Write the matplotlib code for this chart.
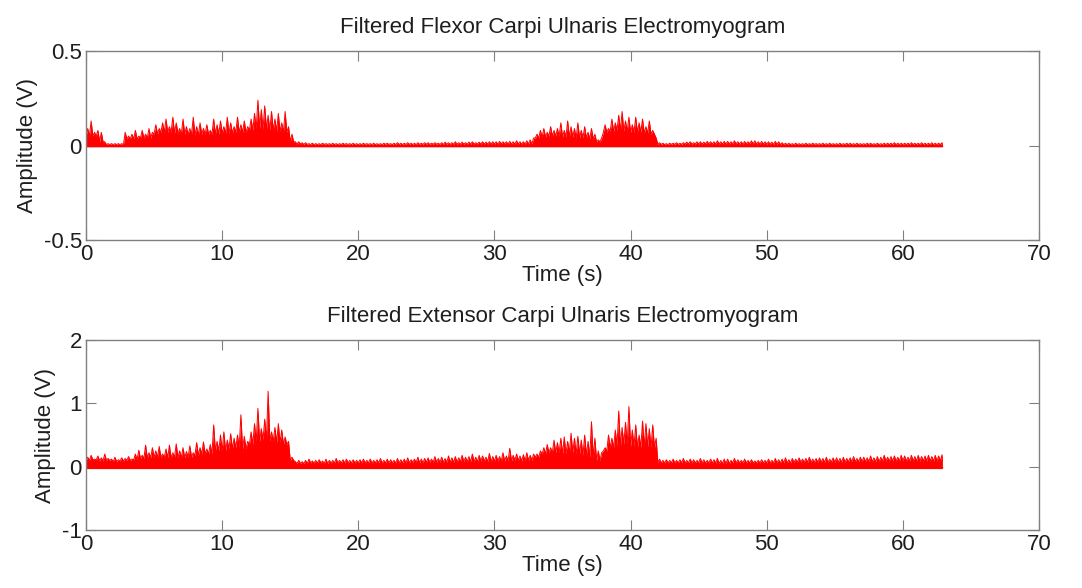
import numpy as np
import matplotlib
matplotlib.use("Agg")
import matplotlib.pyplot as plt

plt.rcParams['font.family'] = ['Liberation Sans', 'DejaVu Sans']
plt.rcParams['axes.unicode_minus'] = False

# ---------------- data ----------------
body_step = 0.5    # s, resolution of the dense envelope
peak_step = 0.25   # s, resolution of the spike heights

flexor_body = [
    0.05, 0.05, 0.02, 0.005, 0.005, 0.005, 0.035, 0.035, 0.04, 0.04,
    0.06, 0.07, 0.07, 0.065, 0.06, 0.06, 0.055, 0.06, 0.06, 0.06,
    0.065, 0.065, 0.07, 0.07, 0.08, 0.09, 0.085, 0.08, 0.075, 0.07,
    0.02, 0.008, 0.006, 0.005, 0.005, 0.006, 0.005, 0.005, 0.006, 0.005,
    0.005, 0.006, 0.005, 0.005, 0.006, 0.005, 0.005, 0.006, 0.005, 0.006,
    0.006, 0.007, 0.006, 0.006, 0.007, 0.007, 0.007, 0.008, 0.008, 0.008,
    0.008, 0.009, 0.008, 0.008, 0.008, 0.008,
    0.04, 0.045, 0.05, 0.05, 0.045, 0.045, 0.04, 0.04, 0.035,
    0.02,
    0.07, 0.075, 0.08, 0.075, 0.07, 0.07, 0.065, 0.06,
    0.006, 0.005, 0.006, 0.006, 0.008, 0.008, 0.008, 0.009, 0.008, 0.008,
    0.008, 0.009, 0.008, 0.009, 0.008, 0.008, 0.007, 0.006, 0.005, 0.005,
    0.005, 0.005, 0.005, 0.006, 0.005, 0.005, 0.005, 0.005, 0.005, 0.005,
    0.005, 0.005, 0.005, 0.005, 0.005, 0.005, 0.005, 0.005, 0.005, 0.005,
    0.005, 0.005,
]

flexor_peak = [
    0.09, 0.13, 0.07, 0.08,   0.07, 0.02, 0.01, 0.01,   0.01, 0.01, 0.01, 0.07,
    0.05, 0.06, 0.08, 0.05,   0.08, 0.06, 0.09, 0.07,   0.11, 0.09, 0.12, 0.14,
    0.10, 0.15, 0.12, 0.09,   0.14, 0.10, 0.09, 0.15,   0.10, 0.12, 0.09, 0.11,
    0.08, 0.14, 0.11, 0.13,   0.10, 0.15, 0.12, 0.10,   0.15, 0.11, 0.13, 0.10,
    0.14, 0.17, 0.24, 0.19,   0.21, 0.16, 0.18, 0.14,   0.17, 0.12, 0.18, 0.10,
    0.06, 0.02, 0.02, 0.015,
    # 16 - 33 s (quiet)
    0.015, 0.01, 0.012, 0.01,  0.01, 0.012, 0.01, 0.01,  0.012, 0.01, 0.01, 0.012,
    0.01, 0.01, 0.012, 0.01,  0.01, 0.012, 0.01, 0.01,  0.012, 0.01, 0.01, 0.012,
    0.012, 0.01, 0.012, 0.015,  0.012, 0.012, 0.015, 0.012,  0.012, 0.015, 0.012, 0.015,
    0.015, 0.012, 0.015, 0.012,  0.015, 0.018, 0.015, 0.015,  0.02, 0.015, 0.018, 0.015,
    0.018, 0.02, 0.015, 0.018,  0.02, 0.018, 0.02, 0.02,  0.02, 0.022, 0.02, 0.02,
    0.022, 0.02, 0.025, 0.02,  0.02, 0.025, 0.03, 0.04,
    # 33 - 42 s
    0.06, 0.08, 0.09, 0.07,   0.10, 0.08, 0.09, 0.12,   0.08, 0.13, 0.10, 0.09,
    0.12, 0.08, 0.10, 0.07,   0.09, 0.06, 0.03, 0.04,   0.11, 0.09, 0.14, 0.12,
    0.16, 0.18, 0.13, 0.15,   0.11, 0.15, 0.12, 0.14,   0.10, 0.13, 0.08, 0.04,
    # 42 - 63 s (quiet)
    0.015, 0.012, 0.01, 0.012,  0.012, 0.015, 0.012, 0.015,  0.018, 0.02, 0.015, 0.02,
    0.02, 0.018, 0.022, 0.02,  0.02, 0.025, 0.02, 0.022,  0.022, 0.02, 0.025, 0.02,
    0.02, 0.022, 0.02, 0.025,  0.025, 0.02, 0.022, 0.02,  0.02, 0.018, 0.022, 0.02,
    0.015, 0.012, 0.012, 0.01,  0.012, 0.01, 0.01, 0.012,  0.01, 0.012, 0.01, 0.01,
    0.012, 0.01, 0.012, 0.01,  0.01, 0.012, 0.01, 0.012,  0.012, 0.01, 0.012, 0.01,
    0.01, 0.012, 0.012, 0.01,  0.012, 0.01, 0.012, 0.012,  0.012, 0.015, 0.012, 0.012,
    0.012, 0.012, 0.015, 0.012,  0.012, 0.015, 0.012, 0.012,  0.015, 0.012, 0.012, 0.015,
]

extensor_body = [
    0.10, 0.11, 0.09, 0.10, 0.08, 0.09, 0.10, 0.11,
    0.13, 0.14, 0.15, 0.15, 0.14, 0.15, 0.14, 0.15,
    0.18, 0.20, 0.20,
    0.25, 0.25, 0.28, 0.30, 0.28,
    0.35, 0.40, 0.42, 0.40, 0.38, 0.35,
    0.10,
    0.05, 0.05, 0.06, 0.06, 0.05, 0.06, 0.06, 0.06, 0.06, 0.06,
    0.06, 0.06, 0.06, 0.06, 0.06, 0.06, 0.06, 0.07, 0.06, 0.07,
    0.07, 0.07, 0.07, 0.07, 0.08, 0.08, 0.08, 0.09, 0.08, 0.09,
    0.09, 0.09, 0.10, 0.09, 0.10,
    0.15, 0.20, 0.22, 0.22, 0.20, 0.22, 0.20, 0.18, 0.15,
    0.10,
    0.25, 0.30, 0.32, 0.35, 0.32, 0.30, 0.32, 0.30,
    0.06, 0.06, 0.06, 0.06, 0.06, 0.06, 0.06, 0.06, 0.06, 0.05,
    0.05, 0.06, 0.06, 0.06, 0.06, 0.06, 0.06, 0.06, 0.06, 0.06,
    0.07, 0.07, 0.07, 0.07, 0.07, 0.07, 0.07, 0.07, 0.08, 0.08,
    0.08, 0.08, 0.08, 0.09, 0.09, 0.09, 0.09, 0.09, 0.09, 0.09,
    0.09, 0.09,
]

extensor_peak = [
    0.15, 0.18, 0.12, 0.17,   0.14, 0.20, 0.13, 0.12,   0.15, 0.11, 0.14, 0.13,
    0.16, 0.12, 0.20, 0.26,   0.18, 0.34, 0.22, 0.30,   0.25, 0.32, 0.20, 0.28,
    0.34, 0.22, 0.36, 0.25,   0.30, 0.24, 0.33, 0.22,   0.38, 0.30, 0.39, 0.28,
    0.35, 0.66, 0.40, 0.50,   0.55, 0.42, 0.52, 0.45,   0.50, 0.82, 0.48, 0.40,
    0.55, 0.68, 0.92, 0.60,   0.75, 1.19, 0.55, 0.62,   0.68, 0.58, 0.47, 0.40,
    0.15, 0.08, 0.10, 0.08,
    # 16 - 33 s
    0.10, 0.12, 0.09, 0.10,   0.11, 0.09, 0.12, 0.10,   0.10, 0.13, 0.10, 0.11,
    0.12, 0.10, 0.11, 0.10,   0.11, 0.12, 0.10, 0.12,   0.10, 0.11, 0.13, 0.10,
    0.12, 0.11, 0.10, 0.13,   0.11, 0.12, 0.14, 0.11,   0.12, 0.15, 0.12, 0.13,
    0.14, 0.12, 0.16, 0.13,   0.15, 0.13, 0.17, 0.14,   0.16, 0.14, 0.18, 0.15,
    0.16, 0.20, 0.15, 0.18,   0.17, 0.15, 0.21, 0.16,   0.18, 0.16, 0.22, 0.17,
    0.29, 0.18, 0.20, 0.17,   0.19, 0.22, 0.18, 0.20,
    # 33 - 42 s
    0.20, 0.25, 0.30, 0.35,   0.30, 0.42, 0.38, 0.45,   0.47, 0.40, 0.53, 0.45,
    0.48, 0.42, 0.50, 0.40,   0.71, 0.45, 0.25, 0.22,   0.30, 0.50, 0.45, 0.58,
    0.88, 0.62, 0.70, 0.95,   0.58, 0.66, 0.50, 0.72,   0.68, 0.60, 0.66, 0.45,
    # 42 - 63 s
    0.12, 0.10, 0.11, 0.10,   0.12, 0.10, 0.11, 0.13,   0.10, 0.12, 0.11, 0.10,
    0.13, 0.11, 0.10, 0.12,   0.11, 0.13, 0.10, 0.12,   0.12, 0.10, 0.13, 0.11,
    0.10, 0.12, 0.10, 0.11,   0.09, 0.10, 0.11, 0.10,   0.12, 0.10, 0.13, 0.11,
    0.12, 0.14, 0.11, 0.13,   0.12, 0.14, 0.12, 0.13,   0.15, 0.12, 0.13, 0.14,
    0.13, 0.15, 0.12, 0.14,   0.14, 0.13, 0.15, 0.13,   0.14, 0.16, 0.13, 0.15,
    0.15, 0.14, 0.17, 0.14,   0.16, 0.15, 0.18, 0.15,   0.16, 0.17, 0.15, 0.18,
    0.17, 0.15, 0.18, 0.16,   0.18, 0.16, 0.17, 0.18,   0.16, 0.18, 0.17, 0.19,
]

titles = ["Filtered Flexor Carpi Ulnaris Electromyogram",
          "Filtered Extensor Carpi Ulnaris Electromyogram"]
x_ticks = [0, 10, 20, 30, 40, 50, 60, 70]
y_ticks_top = [-0.5, 0, 0.5]
y_ticks_bottom = [-1, 0, 1, 2]
t_end = 62.9

# ---------------- figure ----------------
fig = plt.figure(figsize=(10.82, 5.88), dpi=100)
ax1 = fig.add_axes([0.0795, 0.5918, 0.8808, 0.3214])
ax2 = fig.add_axes([0.0795, 0.0986, 0.8808, 0.3231])

red = "#ff0000"
gray = "#808080"
txt = "#1e1e1e"


def draw(ax, body, peak, neg, ylim, yticks, title):
    peak = np.asarray(peak)
    body = np.asarray(body)
    n = len(peak)
    # valleys at sample edges sit on the dense envelope, apexes are the spikes
    t_edge = np.arange(n + 1) * peak_step
    t_apex = np.arange(n) * peak_step + peak_step / 2
    idx = np.minimum((t_edge / body_step).astype(int), len(body) - 1)
    v_edge = body[idx]
    xs = np.empty(2 * n + 1)
    ys = np.empty(2 * n + 1)
    xs[0::2] = t_edge
    ys[0::2] = v_edge
    xs[1::2] = t_apex
    ys[1::2] = peak
    xs = np.minimum(xs, t_end)
    ax.fill_between(xs, -neg, ys, color=red, linewidth=0)
    ax.plot(xs, ys, color=red, linewidth=0.7)
    ax.plot([0, t_end], [0, 0], color=red, linewidth=1.0)
    ax.set_xlim(0, 70)
    ax.set_ylim(*ylim)
    ax.set_xticks(x_ticks)
    ax.set_yticks(yticks)
    ax.set_yticklabels([f"{v:g}" for v in yticks])
    ax.set_title(title, fontsize=16, color=txt, pad=13)
    ax.set_xlabel("Time (s)", fontsize=16, color=txt, labelpad=0)
    ax.set_ylabel("Amplitude (V)", fontsize=16, color=txt, labelpad=4)
    ax.tick_params(direction="in", length=7, width=0.8, color=gray,
                   top=True, right=True, labelsize=16, labelcolor=txt, pad=3)
    for s in ax.spines.values():
        s.set_color(gray)
        s.set_linewidth(1.0)


draw(ax1, flexor_body, flexor_peak, 0.006, (-0.5, 0.5), y_ticks_top, titles[0])
draw(ax2, extensor_body, extensor_peak, 0.03, (-1, 2), y_ticks_bottom, titles[1])

fig.savefig("out.png", dpi=100)
